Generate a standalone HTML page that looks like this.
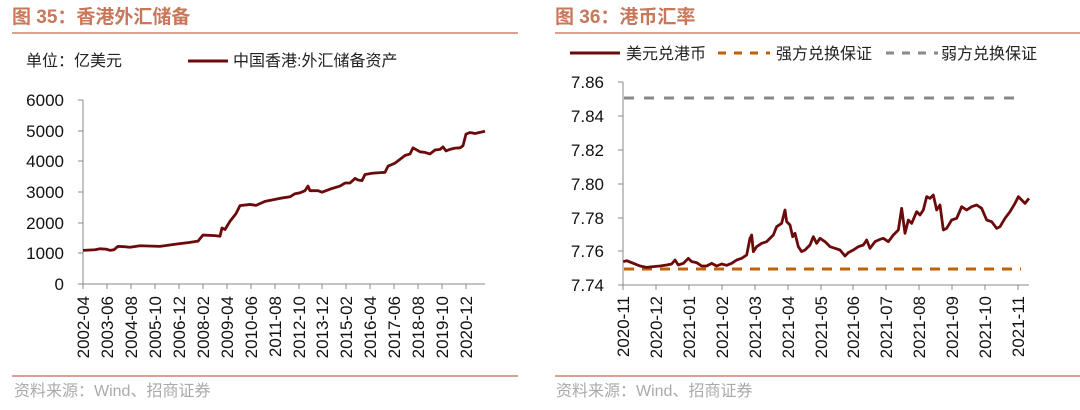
<!DOCTYPE html>
<html><head><meta charset="utf-8"><style>
body{margin:0;background:#fff;}
svg text{font-family:"Liberation Sans","Noto Sans CJK SC",sans-serif;}
</style></head><body>
<svg width="1080" height="405" xmlns="http://www.w3.org/2000/svg">
<g font-weight="bold" fill="#C8775A" font-size="19">
<text x="12" y="23">图 35：香港外汇储备</text>
<text x="555" y="23">图 36：港币汇率</text>
</g>
<line x1="12" y1="33" x2="518" y2="33" stroke="#D0826A" stroke-width="1.5"/>
<line x1="555" y1="33" x2="1080" y2="33" stroke="#D0826A" stroke-width="1.5"/>
<line x1="12" y1="376" x2="518" y2="376" stroke="#D0826A" stroke-width="1.5"/>
<line x1="555" y1="376" x2="1080" y2="376" stroke="#D0826A" stroke-width="1.5"/>
<g fill="#aaa" font-size="16">
<text x="14" y="396">资料来源：Wind、招商证券</text>
<text x="556" y="396">资料来源：Wind、招商证券</text>
</g>
<!-- left chart -->
<g font-size="16" fill="#222">
<text x="26" y="66">单位：亿美元</text>
<text x="233" y="66">中国香港:外汇储备资产</text>
</g>
<line x1="188" y1="61" x2="228" y2="61" stroke="#6B0A0A" stroke-width="3"/>
<g font-size="17" fill="#111" text-anchor="end">
<text x="64" y="106">6000</text><text x="64" y="137">5000</text><text x="64" y="167">4000</text>
<text x="64" y="198">3000</text><text x="64" y="229">2000</text><text x="64" y="259">1000</text><text x="64" y="290">0</text>
</g>
<g stroke="#888" stroke-width="1">
<line x1="83" y1="100" x2="83" y2="284"/><line x1="83" y1="284" x2="485" y2="284"/>
<line x1="78" y1="100" x2="83" y2="100"/><line x1="78" y1="131" x2="83" y2="131"/><line x1="78" y1="161" x2="83" y2="161"/>
<line x1="78" y1="192" x2="83" y2="192"/><line x1="78" y1="223" x2="83" y2="223"/><line x1="78" y1="253" x2="83" y2="253"/><line x1="78" y1="284" x2="83" y2="284"/>
</g>
<g stroke="#888"><path d="M83 284v5M107 284v5M131 284v5M155 284v5M179 284v5M203 284v5M227 284v5M251 284v5M275 284v5M299 284v5M322 284v5M346 284v5M370 284v5M394 284v5M418 284v5M442 284v5M466 284v5"/></g>
<g font-size="17" fill="#111" text-anchor="end">
<text transform="translate(89,296) rotate(-90)">2002-04</text>
<text transform="translate(113,296) rotate(-90)">2003-06</text>
<text transform="translate(137,296) rotate(-90)">2004-08</text>
<text transform="translate(161,296) rotate(-90)">2005-10</text>
<text transform="translate(185,296) rotate(-90)">2006-12</text>
<text transform="translate(209,296) rotate(-90)">2008-02</text>
<text transform="translate(233,296) rotate(-90)">2009-04</text>
<text transform="translate(257,296) rotate(-90)">2010-06</text>
<text transform="translate(281,296) rotate(-90)">2011-08</text>
<text transform="translate(305,296) rotate(-90)">2012-10</text>
<text transform="translate(328,296) rotate(-90)">2013-12</text>
<text transform="translate(352,296) rotate(-90)">2015-02</text>
<text transform="translate(376,296) rotate(-90)">2016-04</text>
<text transform="translate(400,296) rotate(-90)">2017-06</text>
<text transform="translate(424,296) rotate(-90)">2018-08</text>
<text transform="translate(448,296) rotate(-90)">2019-10</text>
<text transform="translate(472,296) rotate(-90)">2020-12</text>
</g>
<g transform="translate(0,284) scale(1,-0.0306)">
<polyline fill="none" stroke="#6B0A0A" stroke-width="2.8" vector-effect="non-scaling-stroke" stroke-linejoin="round" points="83,1100 95,1120 100,1150 106,1140 110,1100 114,1120 118,1230 124,1220 130,1200 140,1250 160,1230 175,1300 190,1360 198,1400 203,1600 215,1580 220,1560 222,1830 225,1780 230,2050 236,2300 240,2560 250,2600 256,2570 265,2700 280,2800 290,2850 295,2950 300,2980 305,3050 308,3200 310,3050 318,3050 322,3000 330,3100 340,3200 345,3300 350,3300 355,3450 358,3400 362,3380 365,3580 372,3620 385,3650 388,3850 395,3950 405,4200 410,4250 413,4450 420,4320 425,4300 430,4250 435,4380 440,4400 443,4480 446,4350 450,4400 455,4440 460,4450 463,4520 466,4900 470,4950 475,4920 485,4990"/>
</g>
<!-- right chart -->
<g font-size="16" fill="#222">
<text x="626" y="59">美元兑港币</text>
<text x="776" y="59">强方兑换保证</text>
<text x="941" y="59">弱方兑换保证</text>
</g>
<line x1="570" y1="53" x2="620" y2="53" stroke="#6B0A0A" stroke-width="3"/>
<line x1="718" y1="53" x2="770" y2="53" stroke="#C0600A" stroke-width="3" stroke-dasharray="8,8"/>
<line x1="886" y1="53" x2="938" y2="53" stroke="#888" stroke-width="3" stroke-dasharray="8,8"/>
<g font-size="17" fill="#111" text-anchor="end">
<text x="604" y="88">7.86</text><text x="604" y="122">7.84</text><text x="604" y="156">7.82</text>
<text x="604" y="190">7.80</text><text x="604" y="224">7.78</text><text x="604" y="257">7.76</text><text x="604" y="291">7.74</text>
</g>
<g stroke="#888" stroke-width="1">
<line x1="623" y1="82" x2="623" y2="285"/><line x1="623" y1="285" x2="1029" y2="285"/>
<path d="M618 82h5M618 116h5M618 150h5M618 184h5M618 218h5M618 251h5M618 285h5"/>
<path d="M623 285v5M656 285v5M689 285v5M722 285v5M755 285v5M788 285v5M821 285v5M853 285v5M886 285v5M919 285v5M952 285v5M985 285v5M1018 285v5"/>
</g>
<g font-size="17" fill="#111" text-anchor="end">
<text transform="translate(629,296) rotate(-90)">2020-11</text>
<text transform="translate(662,296) rotate(-90)">2020-12</text>
<text transform="translate(695,296) rotate(-90)">2021-01</text>
<text transform="translate(728,296) rotate(-90)">2021-02</text>
<text transform="translate(761,296) rotate(-90)">2021-03</text>
<text transform="translate(794,296) rotate(-90)">2021-04</text>
<text transform="translate(827,296) rotate(-90)">2021-05</text>
<text transform="translate(859,296) rotate(-90)">2021-06</text>
<text transform="translate(892,296) rotate(-90)">2021-07</text>
<text transform="translate(925,296) rotate(-90)">2021-08</text>
<text transform="translate(958,296) rotate(-90)">2021-09</text>
<text transform="translate(991,296) rotate(-90)">2021-10</text>
<text transform="translate(1024,296) rotate(-90)">2021-11</text>
</g>
<line x1="624" y1="98" x2="1021" y2="98" stroke="#888" stroke-width="3" stroke-dasharray="10,10"/>
<line x1="624" y1="269" x2="1021" y2="269" stroke="#C0600A" stroke-width="3" stroke-dasharray="10,8"/>
<g transform="translate(540,180) scale(0.33333)">
<polyline fill="none" stroke="#6B0A0A" stroke-width="2.8" vector-effect="non-scaling-stroke" stroke-linejoin="round" points="250,245 260,242 280,250 300,258 320,262 340,260 360,258 380,255 395,252 405,240 415,255 430,250 445,235 455,245 470,248 485,258 500,258 515,250 530,258 545,252 560,256 575,250 590,240 605,235 620,225 630,175 635,165 640,215 650,200 665,190 680,185 700,165 710,140 725,130 735,90 740,125 750,135 758,170 765,160 775,200 785,215 795,210 810,195 820,170 830,190 840,175 855,185 870,200 885,205 900,210 915,228 925,218 940,210 955,200 970,195 980,180 990,205 1005,185 1020,178 1030,175 1045,185 1060,165 1075,150 1085,85 1095,160 1105,120 1115,130 1130,95 1140,105 1150,90 1160,50 1170,55 1180,45 1190,90 1200,75 1210,150 1220,145 1235,120 1250,115 1265,80 1280,90 1295,80 1310,75 1325,85 1340,120 1355,125 1370,145 1380,140 1395,115 1410,95 1425,70 1435,50 1445,60 1455,70 1467,55"/>
</g>
</svg>
</body></html>
